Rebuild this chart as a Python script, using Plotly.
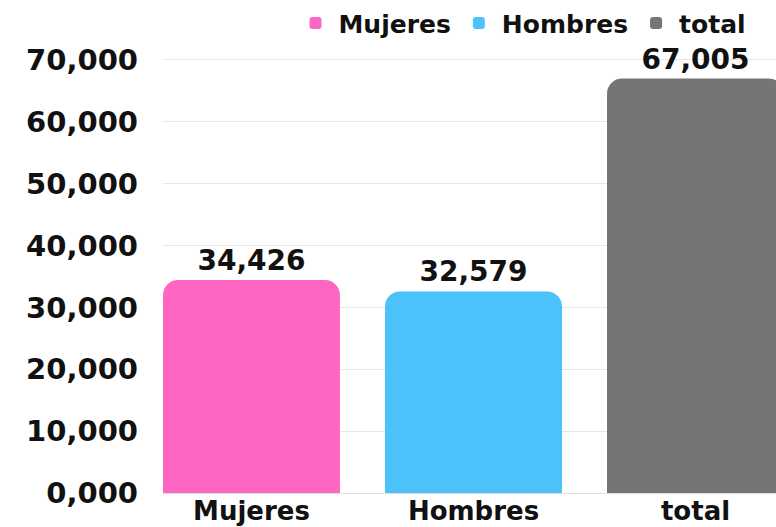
import plotly.graph_objects as go

categories = ["Mujeres", "Hombres", "total"]
values = [34426, 32579, 67005]
colors = ["#FF66C4", "#4BC3FA", "#747676"]
tick_vals = [0, 10000, 20000, 30000, 40000, 50000, 60000, 70000]
tick_text = ["0,000", "10,000", "20,000", "30,000", "40,000", "50,000", "60,000", "70,000"]

FONT = "DejaVu Sans"

fig = go.Figure()
for cat, val, col in zip(categories, values, colors):
    fig.add_trace(go.Bar(
        x=[cat], y=[val], name=cat,
        marker=dict(color=col, line=dict(width=0)),
        width=0.797, offsetgroup="a",
        texttemplate="%{y:,}", textposition="outside",
        textfont=dict(family=FONT, size=28, color="#111111", weight="bold"),
        cliponaxis=False,
    ))

fig.update_layout(
    width=776, height=527,
    margin=dict(l=163, r=0, t=41, b=34),
    paper_bgcolor="white", plot_bgcolor="white",
    barmode="overlay", barcornerradius=15,
    showlegend=True,
    legend=dict(
        orientation="h", x=0.96, xanchor="right", y=1.09, yanchor="top",
        font=dict(family=FONT, size=25, color="#111111", weight="bold"),
        itemclick=False, itemdoubleclick=False, itemwidth=36,
    ),
    xaxis=dict(
        range=[-0.3986, 2.3626], showgrid=False, showline=False, zeroline=False,
        tickfont=dict(family=FONT, size=26, color="#111111", weight="bold"),
        ticks="", ticklabelstandoff=0,
    ),
    yaxis=dict(
        range=[0, 73070], tickvals=tick_vals, ticktext=tick_text,
        showgrid=True, gridcolor="#E6E6E6", gridwidth=1,
        zeroline=True, zerolinecolor="#E0E0E0", zerolinewidth=1,
        showline=False, ticks="",
        tickfont=dict(family=FONT, size=29, color="#111111", weight="bold"),
        ticklabelstandoff=24,
    ),
)

fig.write_html("out.html")
